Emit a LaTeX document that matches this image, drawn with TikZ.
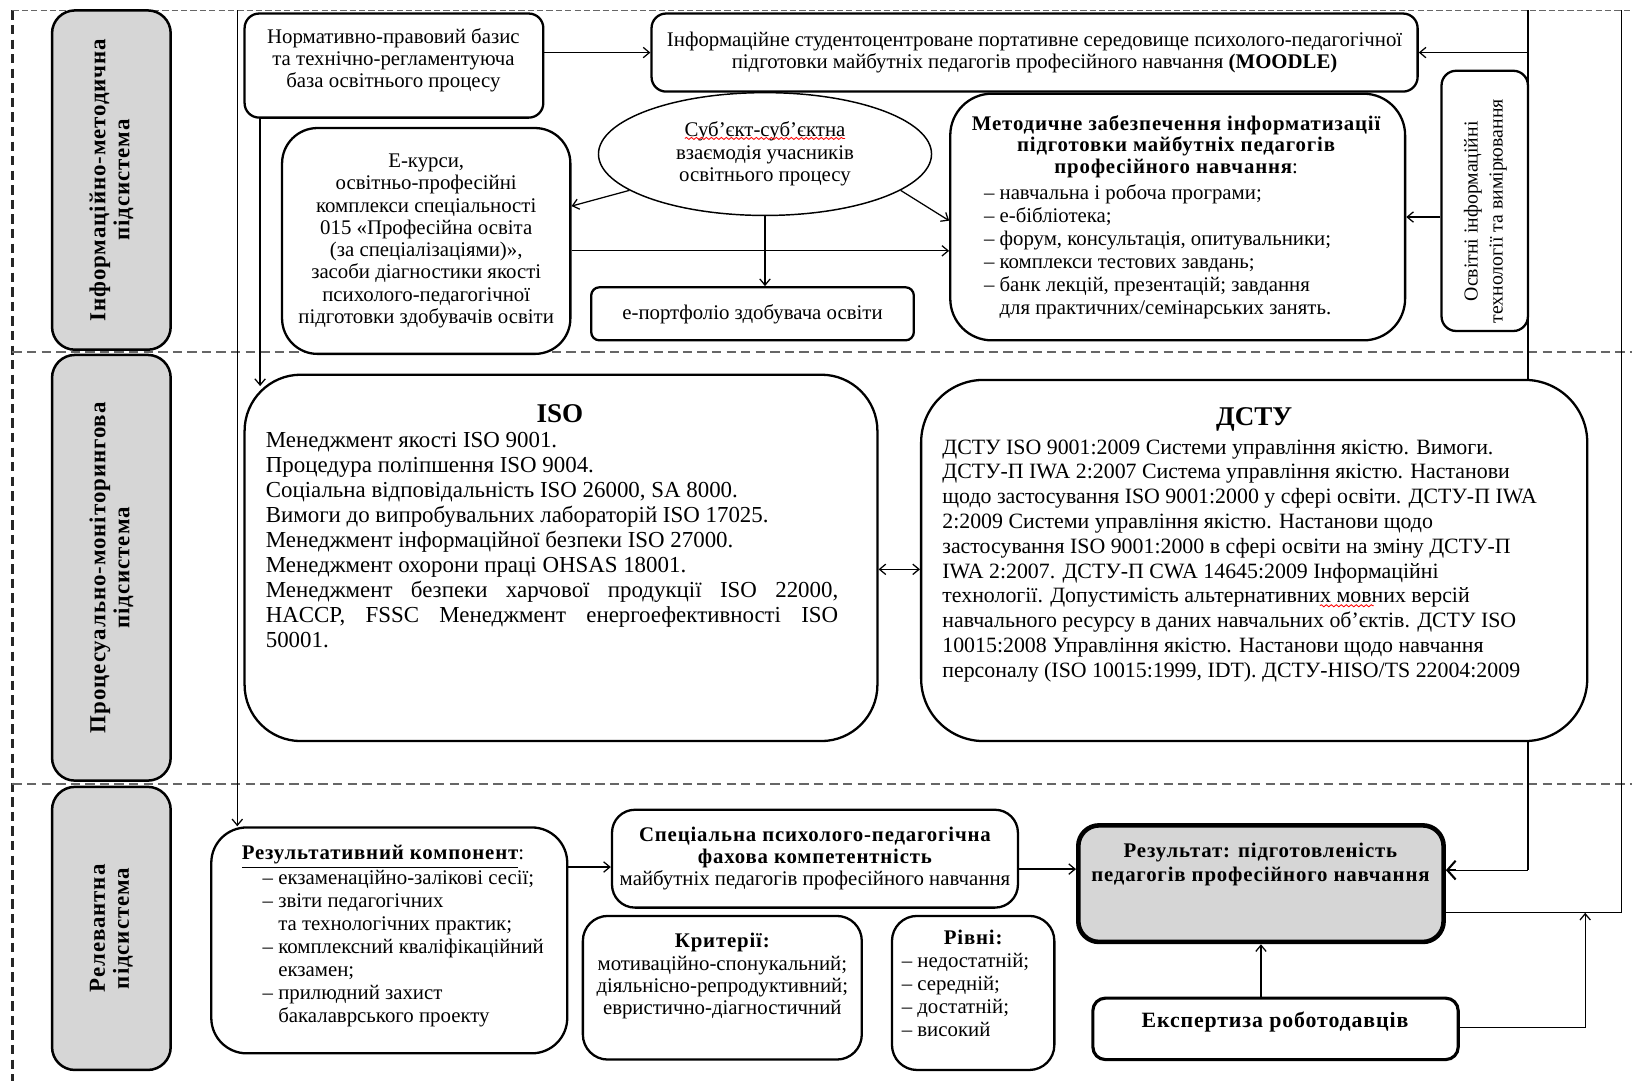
\documentclass[tikz,border=0pt]{standalone}
\usepackage{fontspec}
\setmainfont{Liberation Serif}
\newfontfamily\lsfam[LetterSpace=4]{Liberation Serif}
\usetikzlibrary{arrows.meta,shapes.geometric,calc,decorations.pathmorphing}
\newcommand\lsb{\lsfam\bfseries}
\newcommand\mybx[7]{\node[#1, minimum width={(#5-#3)*0.5pt}, minimum height={(#6-#4)*0.5pt}] (#2) at ({(#3+#5)/2},{(#4+#6)/2}) {#7};}
\begin{document}
\begin{tikzpicture}[x=0.5pt,y=-0.5pt,
 box/.style={draw, line width=1.1pt, rounded corners=#1, fill=white, inner sep=0pt},
 box/.default=8pt,
 gbox/.style={draw, line width=1.2pt, rounded corners=11pt, fill=black!16, inner sep=0pt},
 txt/.style={inner sep=0pt, font=\fontsize{10}{10.7}\selectfont, align=center},
 arr/.style={-{Straight Barb[length=3pt,width=5pt]}, line width=0.6pt},
 ln/.style={line width=0.6pt},
 spell/.style={draw=red, line width=0.4pt, decorate, decoration={snake, amplitude=0.5pt, segment length=2.4pt}},
 dsh/.style={line width=0.8pt, draw=black!60, dash pattern=on 4.5pt off 2.5pt}]
\fill[white] (0,0) rectangle (1568,1039);
\useasboundingbox (0,0) rectangle (1568,1039);
% dashed frame
\draw[dsh, draw=black!85, line width=1pt] (12,10) -- (12,1039);
\draw[dsh, line width=0.6pt, dash pattern=on 3pt off 1.5pt] (12,10) -- (1568,10);
\draw[dsh] (12,338) -- (1568,338);
\draw[dsh] (12,753) -- (1568,753);
% long connector lines
\coordinate (l1) at (228,10);
\coordinate (r1) at (1468,10);
\coordinate (r2) at (1468,836);
\coordinate (o1) at (1558,10);
\coordinate (o2) at (1558,877);
\coordinate (e1) at (1523,987);
\draw[ln] (r1) -- (r2);
% gray subsystem boxes
\mybx{gbox}{gA}{50}{10}{164}{336}{}
\mybx{gbox}{gB}{50}{341}{164}{750}{}
\mybx{gbox}{gC}{50}{756}{164}{1028}{}
\node[txt, rotate=90, font=\lsb\fontsize{11}{11.5}\selectfont] (gAt) at (gA.center) {Інформаційно-методична\\підсистема};
\node[txt, rotate=90, font=\lsb\fontsize{11}{11.5}\selectfont] (gBt) at (gB.center) {Процесуально-моніторингова\\підсистема};
\node[txt, rotate=90, font=\lsb\fontsize{11}{11.5}\selectfont] (gCt) at (gC.center) {Релевантна\\підсистема};
% top subsystem
\mybx{box=7pt}{norm}{235}{13}{522}{113}{}
\node[txt] (normt) at (378,58) {Нормативно-правовий базис\\та технічно-регламентуюча\\база освітнього процесу};
\mybx{box=7pt,txt}{moodle}{626}{13}{1362}{88}{Інформаційне студентоцентроване портативне середовище психолого-педагогічної\\підготовки майбутніх педагогів професійного навчання \textbf{(MOODLE)}}
\node[draw, ellipse, line width=0.7pt, fill=white, minimum width=160pt, minimum height=59pt, txt] (ell) at (735,148) {Суб’єкт-суб’єктна\\взаємодія учасників\\освітнього процесу};
\draw[spell] (658,133) -- (812,133);
\mybx{box=17pt,txt}{ecourse}{271}{123}{548}{340}{Е-курси,\\освітньо-професійні\\комплекси спеціальності\\015 «Професійна освіта\\(за спеціалізаціями)»,\\засоби діагностики якості\\психолого-педагогічної\\підготовки здобувачів освіти}
\mybx{box=4pt,txt}{port}{568}{276}{878}{327}{е-портфоліо здобувача освіти}
\mybx{box=20pt}{met}{913}{90}{1350}{327}{}
\node[txt, font=\lsb\fontsize{10}{10.5}\selectfont] (mett) at (1130,141) {Методичне забезпечення інформатизації\\підготовки майбутніх педагогів\\професійного навчання{\normalfont\mdseries :}};
\node[txt, align=left, anchor=north west, font=\fontsize{10}{11}\selectfont] (metl) at (945,177) {– навчальна і робоча програми;\\– е-бібліотека;\\– форум, консультація, опитувальники;\\– комплекси тестових завдань;\\– банк лекцій, презентацій; завдання\\\phantom{– }для практичних/семінарських занять.};
\mybx{box=7pt}{osv}{1385}{68}{1468}{318}{}
\node[txt, rotate=90, font=\fontsize{9.5}{12}\selectfont] (osvt) at (1427,203) {Освітні інформаційні\\технології та вимірювання};
% arrows top
\draw[arr] (norm.east |- moodle.west) -- (moodle.west);
\draw[arr] (r1 |- moodle.east) -- (moodle.east);
\draw[arr] (osv.west |- met.east) -- (met.east);
\draw[arr] (ell.195) -- (ecourse.east |- 0,198);
\draw[arr] (ell.-15) -- (met.west |- 0,212);
\draw[arr] (ell.south) -- (ell.south |- port.north);
\draw[arr] (ecourse.east |- 0,241) -- (met.west |- 0,241);
% middle subsystem
\mybx{box=27pt}{iso}{235}{360}{843}{712}{}
\node[txt, font=\bfseries\fontsize{13}{14}\selectfont] (isot) at (538,397) {ISO};
\node[txt, align=left, anchor=north west, font=\fontsize{11}{12}\selectfont] (isob) at (255,415) {Менеджмент якості ISO 9001.\\Процедура поліпшення ISO 9004.\\Соціальна відповідальність ISO 26000, SA 8000.\\Вимоги до випробувальних лабораторій ISO 17025.\\Менеджмент інформаційної безпеки ISO 27000.\\Менеджмент охорони праці OHSAS 18001.\\\makebox[275pt][s]{Менеджмент безпеки харчової продукції ISO 22000,}\\\makebox[275pt][s]{HACCP, FSSC Менеджмент енергоефективності ISO}\\50001.};
\mybx{box=30pt}{dstu}{885}{365}{1525}{712}{}
\node[txt, font=\bfseries\fontsize{13}{14}\selectfont] (dstut) at (1205,403) {ДСТУ};
\node[txt, align=left, anchor=north west, font=\fontsize{10.5}{11.9}\selectfont] (dstub) at (905,422) {ДСТУ ISO 9001:2009 Системи управління якістю. Вимоги.\\ДСТУ-П IWA 2:2007 Система управління якістю. Настанови\\щодо застосування ISO 9001:2000 у сфері освіти. ДСТУ-П IWA\\2:2009 Системи управління якістю. Настанови щодо\\застосування ISO 9001:2000 в сфері освіти на зміну ДСТУ-П\\IWA 2:2007. ДСТУ-П CWA 14645:2009 Інформаційні\\технології. Допустимість альтернативних мовних версій\\навчального ресурсу в даних навчальних об’єктів. ДСТУ ISO\\10015:2008 Управління якістю. Настанови щодо навчання\\персоналу (ISO 10015:1999, IDT). ДСТУ-HISO/TS 22004:2009};
\draw[spell] (1268,582) -- (1320,582);
\coordinate (n1) at ($(norm.south west)+(16,0)$);
\draw[arr] (n1) -- ($(n1 |- iso.north)+(0,12)$);
\draw[{Straight Barb[length=3pt,width=5pt]}-{Straight Barb[length=3pt,width=5pt]}, ln] (iso.east |- 0,547) -- (dstu.west |- 0,547);
% bottom subsystem
\mybx{box=17pt}{resk}{203}{795}{545}{1012}{}
\node[txt, align=left, anchor=north west, font=\fontsize{10}{11}\selectfont] (reskt) at (232,812) {\underline{\lsb Результативний компонент}:\\\hspace*{10pt}– екзаменаційно-залікові сесії;\\\hspace*{10pt}– звіти педагогічних\\\hspace*{10pt}\phantom{– }та технологічних практик;\\\hspace*{10pt}– комплексний кваліфікаційний\\\hspace*{10pt}\phantom{– }екзамен;\\\hspace*{10pt}– прилюдний захист\\\hspace*{10pt}\phantom{– }бакалаврського проекту};
\mybx{box=11pt,txt}{spec}{588}{778}{978}{872}{{\lsb Спеціальна психолого-педагогічна}\\{\lsb фахова компетентність}\\майбутніх педагогів професійного навчання}
\mybx{box=12pt}{krit}{560}{880}{828}{1018}{}
\node[txt] (kritt) at (694,938) {{\lsb Критерії:}\\мотиваційно-спонукальний;\\діяльнісно-репродуктивний;\\евристично-діагностичний};
\mybx{box=12pt}{rivni}{857}{880}{1013}{1028}{}
\node[txt, font=\lsb\fontsize{10}{11}\selectfont] (rivt) at (935,901) {Рівні:};
\node[txt, align=left, anchor=north west, font=\fontsize{10}{11.2}\selectfont] (rivl) at (866,915) {– недостатній;\\– середній;\\– достатній;\\– високий};
\mybx{box=10pt, fill=black!16, line width=2.2pt}{res2}{1036}{793}{1387}{905}{}
\node[txt, font=\lsb\fontsize{10}{11.5}\selectfont] (res2t) at (1211,831) {Результат: підготовленість\\педагогів професійного навчання};
\mybx{box=6pt, line width=1.5pt}{exp}{1050}{959}{1401}{1018}{}
\node[txt, font=\lsb\fontsize{10.5}{11}\selectfont] (expt) at (1225,982) {Експертиза роботодавців};
% bottom arrows
\draw[arr] (l1) -- (l1 |- resk.north);
\draw[arr] (resk.east |- 0,833) -- (spec.west |- 0,833);
\draw[arr] (spec.east |- 0,835) -- (res2.west |- 0,835);
\draw[ln] (r2) -- ($(r2 -| res2.east)+(8,0)$);
\draw[-{Straight Barb[length=4pt,width=9pt]}, line width=1pt] ($(r2 -| res2.east)+(10,0)$) -- (r2 -| res2.east);
\draw[ln] (o1) -- (o2) -- (o2 -| res2.east);
\draw[arr] (exp.east |- e1) -- (e1) -- (e1 |- o2);
\draw[arr] (res2.south |- exp.north) -- (res2.south);
\end{tikzpicture}
\end{document}
